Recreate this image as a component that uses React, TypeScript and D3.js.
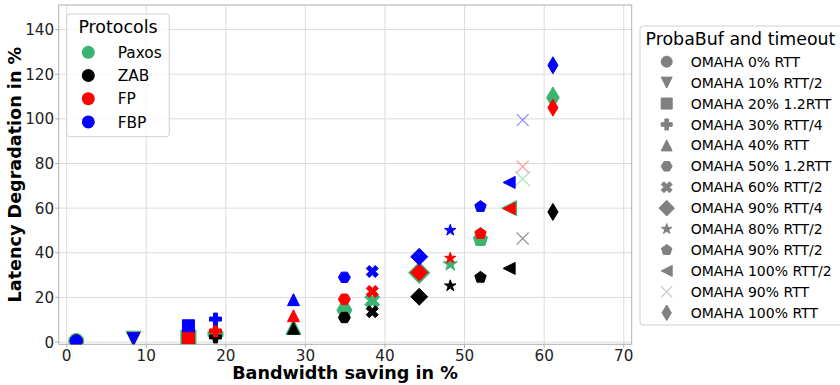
import React from 'react'
import * as d3 from 'd3'

// protocols (colour per protocol)
const protocols = ['Paxos', 'ZAB', 'FP', 'FBP']
const protocolColors = ['#3cb371', '#000000', '#ff0000', '#0000ff']

// ProbaBuf / timeout configurations (one marker each)
const configLabels = [
  'OMAHA 0% RTT',
  'OMAHA 10% RTT/2',
  'OMAHA 20% 1.2RTT',
  'OMAHA 30% RTT/4',
  'OMAHA 40% RTT',
  'OMAHA 50% 1.2RTT',
  'OMAHA 60% RTT/2',
  'OMAHA 90% RTT/4',
  'OMAHA 80% RTT/2',
  'OMAHA 90% RTT/2',
  'OMAHA 100% RTT/2',
  'OMAHA 90% RTT',
  'OMAHA 100% RTT',
]
const configMarkers = ['o', 'v', 's', 'P', '^', 'H', 'X', 'D', '*', 'p', '<', 'x', 'd']

// bandwidth saving (x) per configuration
const bandwidthSaving = [1.2, 8.4, 15.3, 18.7, 28.5, 34.9, 38.4, 44.3, 48.2, 52.0, 55.6, 57.3, 61.1]

// latency degradation (y) per protocol
const paxosLatency = [0.5, 1.5, 2, 3.6, 6.8, 14.3, 18.5, 31, 34.9, 46, 60, 73.2, 109.5]
const zabLatency = [0.5, 1.5, 2, 2.3, 6.2, 11, 13.6, 20.3, 25.2, 29, 33, 46.4, 58.3]
const fpLatency = [0.5, 1.5, 2, 5, 11.8, 19.2, 22.7, 31.2, 37.6, 48.6, 59.8, 78.6, 105]
const fbpLatency = [0.5, 1.5, 7.3, 10.3, 19, 29, 31.6, 38.2, 50.1, 60.7, 71.5, 99.5, 124]
const latencyByProtocol = [paxosLatency, zabLatency, fpLatency, fbpLatency]

const xTicks = [0, 10, 20, 30, 40, 50, 60, 70]
const yTicks = [0, 20, 40, 60, 80, 100, 120, 140]

const FONT = '"DejaVu Sans", sans-serif'

// matplotlib-like marker shapes as custom d3 symbol types (size = ms^2)
type Pt = [number, number]
const poly = (pts: Pt[]) => ({
  draw(ctx: any, size: number) {
    const s = Math.sqrt(size)
    pts.forEach(([px, py], i) => (i ? ctx.lineTo(px * s, py * s) : ctx.moveTo(px * s, py * s)))
    ctx.closePath()
  },
})
const regular = (n: number, r: number, rot: number): Pt[] =>
  d3.range(n).map((i) => {
    const a = rot + (i * 2 * Math.PI) / n
    return [r * Math.sin(a), -r * Math.cos(a)] as Pt
  })
const starPts: Pt[] = d3.range(10).map((i) => {
  const a = (i * Math.PI) / 5
  const r = i % 2 ? 0.5 * 0.381966 : 0.5
  return [r * Math.sin(a), -r * Math.cos(a)] as Pt
})
const plusPts: Pt[] = ([
  [-1, -3], [-1, -1], [-3, -1], [-3, 1], [-1, 1], [-1, 3],
  [1, 3], [1, 1], [3, 1], [3, -1], [1, -1], [1, -3],
] as Pt[]).map(([a, b]) => [a / 6, b / 6] as Pt)
const xFilledPts: Pt[] = ([
  [-1, -2], [0, -1], [1, -2], [2, -1], [1, 0], [2, 1],
  [1, 2], [0, 1], [-1, 2], [-2, 1], [-1, 0], [-2, -1],
] as Pt[]).map(([a, b]) => [a / 4, b / 4] as Pt)
const D = Math.SQRT1_2

const markerTypes: Record<string, any> = {
  o: { draw(ctx: any, size: number) { const r = Math.sqrt(size) / 2; ctx.moveTo(r, 0); ctx.arc(0, 0, r, 0, 2 * Math.PI) } },
  v: poly([[0, 0.5], [-0.5, -0.5], [0.5, -0.5]]),
  '^': poly([[0, -0.5], [-0.5, 0.5], [0.5, 0.5]]),
  '<': poly([[-0.5, 0], [0.5, -0.5], [0.5, 0.5]]),
  s: poly([[-0.5, -0.5], [0.5, -0.5], [0.5, 0.5], [-0.5, 0.5]]),
  P: poly(plusPts),
  X: poly(xFilledPts),
  H: poly(regular(6, 0.5, Math.PI / 6)),
  p: poly(regular(5, 0.5, 0)),
  '*': poly(starPts),
  D: poly([[0, -D], [D, 0], [0, D], [-D, 0]]),
  d: poly([[0, -D], [D * 0.6, 0], [0, D], [-D * 0.6, 0]]),
  x: {
    draw(ctx: any, size: number) {
      const h = Math.sqrt(size) / 2
      ctx.moveTo(-h, -h); ctx.lineTo(h, h)
      ctx.moveTo(-h, h); ctx.lineTo(h, -h)
    },
  },
}

function Marker({ m, ms, color, x, y }: { m: string; ms: number; color: string; x: number; y: number }) {
  const d = d3.symbol().type(markerTypes[m]).size(ms * ms)() as string
  const thin = m === 'x'
  return (
    <path
      d={d}
      transform={`translate(${x},${y})`}
      fill={thin ? 'none' : color}
      stroke={color}
      strokeWidth={thin ? 1.3 : 1}
      opacity={thin ? 0.4 : 1}
    />
  )
}

export default function App() {
  const width = 840
  const height = 385
  const plot = { left: 58.7, right: 631.7, top: 5, bottom: 344.3 }

  const x = d3.scaleLinear().domain([-1, 71]).range([plot.left, plot.right])
  const y = d3.scaleLinear().domain([-1, 151]).range([plot.bottom, plot.top])

  const rightRowY = (i: number) => 61.7 + i * 20.92

  return (
    <svg
      width={width}
      height={height}
      style={{ position: 'absolute', left: 0, top: 0, background: '#fff' }}
      fontFamily={FONT}
    >
      <defs>
        <clipPath id="plot-clip">
          <rect x={plot.left} y={plot.top} width={plot.right - plot.left} height={plot.bottom - plot.top} />
        </clipPath>
      </defs>

      {/* grid */}
      <g stroke="#dcdcdc" strokeWidth={1}>
        {xTicks.map((t) => (
          <line key={'gx' + t} x1={x(t)} x2={x(t)} y1={plot.top} y2={plot.bottom} />
        ))}
        {yTicks.map((t) => (
          <line key={'gy' + t} x1={plot.left} x2={plot.right} y1={y(t)} y2={y(t)} />
        ))}
      </g>

      {/* spines */}
      <rect
        x={plot.left}
        y={plot.top}
        width={plot.right - plot.left}
        height={plot.bottom - plot.top}
        fill="none"
        stroke="#b0b0b0"
        strokeWidth={1}
      />

      {/* ticks + labels */}
      <g fontSize={15.2} fill="#222">
        {yTicks.map((t) => (
          <g key={'ty' + t}>
            <line x1={plot.left - 3.5} x2={plot.left} y1={y(t)} y2={y(t)} stroke="#b0b0b0" />
            <text x={plot.left - 4.5} y={y(t)} dy="0.36em" textAnchor="end">{t}</text>
          </g>
        ))}
        {xTicks.map((t) => (
          <g key={'tx' + t}>
            <line x1={x(t)} x2={x(t)} y1={plot.bottom} y2={plot.bottom + 3.5} stroke="#b0b0b0" />
            <text x={x(t)} y={360.5} textAnchor="middle">{t}</text>
          </g>
        ))}
      </g>

      {/* axis titles */}
      <text x={345} y={379} textAnchor="middle" fontWeight="bold" fontSize={17.6}>
        Bandwidth saving in %
      </text>
      <text
        transform={`translate(20.5,${(plot.top + plot.bottom) / 2}) rotate(-90)`}
        textAnchor="middle"
        fontWeight="bold"
        fontSize={17.6}
      >
        Latency Degradation in %
      </text>

      {/* data */}
      <g clipPath="url(#plot-clip)">
        {latencyByProtocol.map((vals, p) => (
          <g key={protocols[p]}>
            {vals.map((v, i) => (
              <Marker
                key={i}
                m={configMarkers[i]}
                ms={p === 0 ? 15 : 12}
                color={protocolColors[p]}
                x={x(bandwidthSaving[i])}
                y={y(v)}
              />
            ))}
          </g>
        ))}
      </g>

      {/* protocols legend */}
      <g>
        <rect x={66.7} y={14} width={102.6} height={122.7} rx={3} fill="#fff" fillOpacity={0.8} stroke="#d0d0d0" />
        <text x={118} y={33.3} textAnchor="middle" fontSize={17.4}>Protocols</text>
        {protocols.map((name, i) => {
          const cy = 52.3 + i * 23.2
          return (
            <g key={name}>
              <circle cx={88.3} cy={cy} r={6.5} fill={protocolColors[i]} />
              <text x={117.7} y={cy + 5.6} fontSize={15.4}>{name}</text>
            </g>
          )
        })}
      </g>

      {/* configurations legend */}
      <g>
        <rect x={640} y={26} width={220} height={299} rx={3} fill="#fff" fillOpacity={0.8} stroke="#d0d0d0" />
        <text x={645.5} y={45.3} fontSize={17.4}>ProbaBuf and timeout</text>
        {configLabels.map((label, i) => (
          <g key={label + i}>
            <Marker m={configMarkers[i]} ms={11} color="#808080" x={666.7} y={rightRowY(i)} />
            <text x={690.7} y={rightRowY(i) + 5.1} fontSize={14}>{label}</text>
          </g>
        ))}
      </g>
    </svg>
  )
}
